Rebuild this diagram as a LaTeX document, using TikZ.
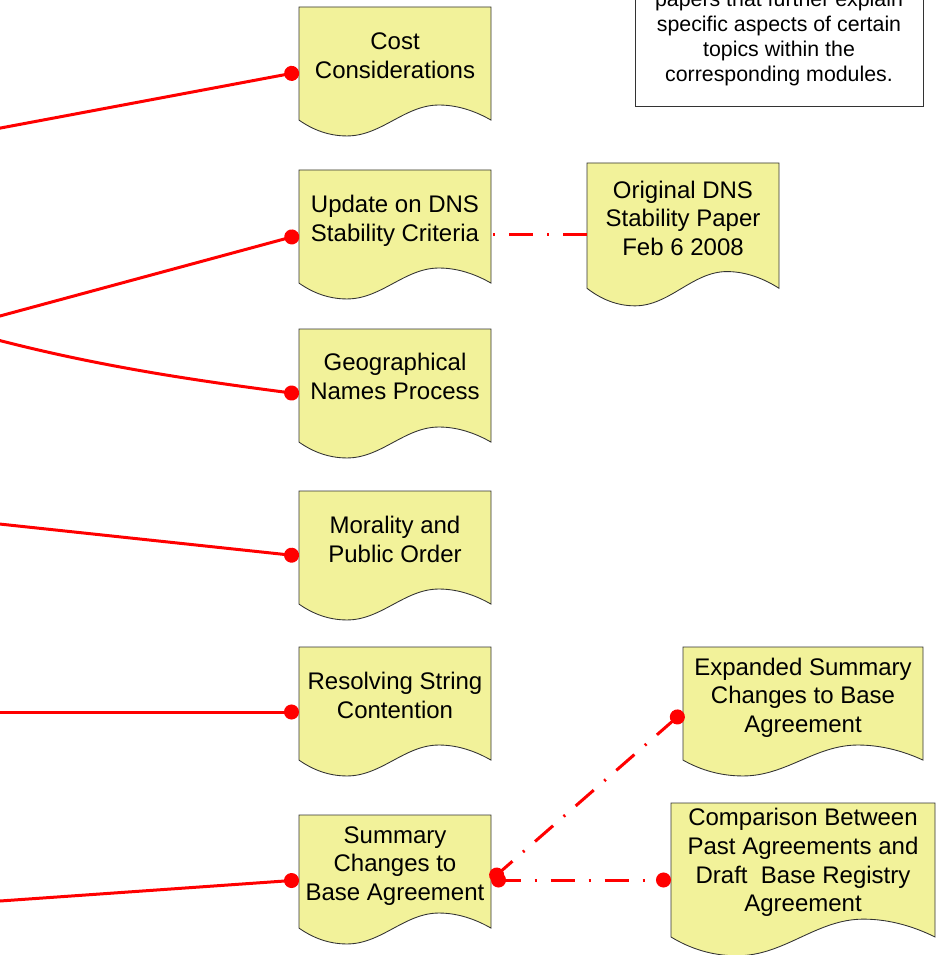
\documentclass[tikz,border=0pt]{standalone}
\usepackage{fontspec}
\setmainfont{Liberation Sans}
\usetikzlibrary{arrows.meta}
\definecolor{docyellow}{HTML}{F2F29A}
\definecolor{linered}{HTML}{FF0000}
\definecolor{edgegray}{HTML}{333333}
\tikzset{
  docshape/.style={draw=edgegray,fill=docyellow,line width=0.65pt,line join=miter},
  docbox/.style={inner sep=0pt,outer sep=0pt,draw=none,text=black,font=\fontsize{18}{21.5}\selectfont},
  notebox/.style={draw=edgegray,fill=white,line width=0.75pt,inner sep=0pt,outer sep=0pt,
    minimum width=216pt,minimum height=102.75pt,align=center,text=black,font=\fontsize{16}{18.8}\selectfont},
  link/.style={draw=linered,line width=2.25pt},
  dot/.style={-{Circle[length=11.25pt,width=11.25pt]}},
  bothdots/.style={{Circle[length=11.25pt,width=11.25pt]}-{Circle[length=11.25pt,width=11.25pt]}},
  dashdot/.style={dash pattern=on 18pt off 10.5pt on 1.5pt off 10.5pt,dash phase=#1},
}
% name, left, top, width, height, y of the text centre, text
\newcommand\docnode[7]{%
  \begin{scope}[shift={(#2,#3)},xscale=#4,yscale=#5]
    \path[docshape] (0,0) -- (1,0) -- (1,.87)
      .. controls (.927,.808) and (.833,.754) .. (.729,.754)
      .. controls (.55,.754) and (.43,.992) .. (.25,.992)
      .. controls (.156,.992) and (.073,.946) .. (0,.87) -- cycle;
  \end{scope}
  \pgfmathsetlengthmacro\docraise{(#3+#5/2-#6)*0.75pt-6.75pt}%
  \pgfmathsetlengthmacro\docwide{#4*0.75pt}%
  \pgfmathsetlengthmacro\dochigh{#5*0.75pt}%
  \node[docbox,minimum width=\docwide,minimum height=\dochigh] (#1) at (#2+#4/2,#3+#5/2)
    {\raisebox{\docraise}[0pt][0pt]{\parbox[c]{\docwide}{\centering\strut #7\strut}}};
}
\begin{document}
\begin{tikzpicture}[x=0.75pt,y=-0.75pt]
\useasboundingbox (0,0) rectangle (940,955);
\clip (0,0) rectangle (940,955);
\docnode{cost}{299}{7}{192}{130}{55}{Cost\\Considerations}
\docnode{update}{299}{170}{192}{130}{218}{Update on DNS\\Stability Criteria}
\docnode{original}{587}{163}{192}{144}{218}{Original DNS\\Stability Paper\\Feb 6 2008}
\docnode{geo}{299}{329}{192}{130}{376}{Geographical\\Names Process}
\docnode{morality}{299}{491}{192}{130}{539}{Morality and\\Public Order}
\docnode{resolving}{299}{647}{192}{130}{695}{Resolving String\\Contention}
\docnode{summary}{299}{815}{192}{130}{863}{Summary\\Changes to\\Base Agreement}
\docnode{expanded}{683}{647}{240}{130}{695}{Expanded Summary\\Changes to Base\\Agreement}
\docnode{comparison}{671}{803}{264}{154}{860}{Comparison Between\\Past Agreements and\\Draft\ \ Base Registry\\Agreement}
\node[notebox] (note) at (779,38.5) {papers that further explain\\specific aspects of certain\\topics within the\\corresponding modules.};
\coordinate (fromcost) at (-10,130);
\coordinate (fromupdate) at (-10,318.7);
\coordinate (fromgeo) at (-10,338);
\coordinate (frommorality) at (-10,523);
\coordinate (fromresolving) at (-10,712);
\coordinate (fromsummary) at (-10,901.7);
\draw[link,dot] (fromcost) -- (cost.west);
\draw[link,dot] (fromupdate) -- (update.west);
\draw[link,dot] (fromgeo) .. controls (100,367) and (200,381) .. (geo.west);
\draw[link,dot] (frommorality) -- (morality.west);
\draw[link,dot] (fromresolving) -- (resolving.west);
\draw[link,dot] (fromsummary) -- (summary.west);
\draw[link,dashdot=27pt] (update.east) -- (original.west);
\draw[link,bothdots,dashdot=6pt] (summary.east) -- (comparison.west);
\draw[link,bothdots,dashdot=6.75pt] (summary.east) -- (expanded.west);
\end{tikzpicture}
\end{document}
